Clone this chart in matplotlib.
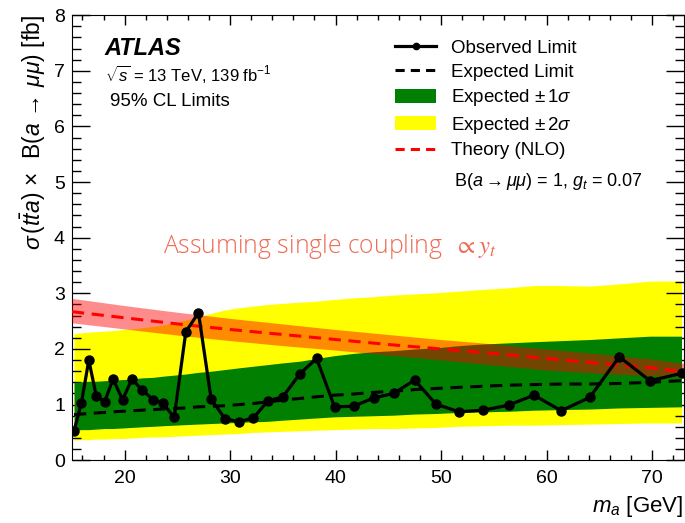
import numpy as np
import matplotlib.pyplot as plt
from matplotlib.lines import Line2D
from matplotlib.patches import Patch
from matplotlib.ticker import MultipleLocator

plt.rcParams['font.family'] = ['Liberation Sans', 'DejaVu Sans']
plt.rcParams['mathtext.fontset'] = 'custom'
plt.rcParams['mathtext.rm'] = 'Liberation Sans'
plt.rcParams['mathtext.it'] = 'Liberation Sans:italic'
plt.rcParams['mathtext.bf'] = 'Liberation Sans:bold'

# mass points [GeV]
mass = [15.2, 15.9, 16.6, 17.3, 18.1, 18.9, 19.8, 20.7, 21.6, 22.7, 23.6, 24.7,
        25.8, 27.0, 28.2, 29.5, 30.8, 32.2, 33.6, 35.0, 36.6, 38.2, 39.9, 41.7,
        43.6, 45.5, 47.5, 49.5, 51.7, 54.0, 56.4, 58.8, 61.4, 64.1, 66.9, 69.8, 72.8]
observed = [0.53, 1.03, 1.80, 1.16, 1.05, 1.46, 1.09, 1.46, 1.27, 1.09, 1.03, 0.77,
            2.31, 2.65, 1.10, 0.75, 0.69, 0.76, 1.07, 1.14, 1.55, 1.83, 0.96, 0.97,
            1.12, 1.20, 1.44, 1.01, 0.87, 0.90, 0.99, 1.17, 0.89, 1.13, 1.86, 1.43, 1.56]
expected = [0.82, 0.83, 0.84, 0.85, 0.86, 0.87, 0.88, 0.89, 0.90, 0.91, 0.92, 0.93,
            0.94, 0.96, 0.97, 0.98, 1.00, 1.02, 1.05, 1.08, 1.11, 1.14, 1.17, 1.19,
            1.22, 1.24, 1.27, 1.29, 1.31, 1.33, 1.35, 1.36, 1.37, 1.37, 1.38, 1.40, 1.43]
sig1_up = [1.40, 1.41, 1.42, 1.42, 1.43, 1.44, 1.45, 1.46, 1.48, 1.49, 1.51, 1.53,
           1.55, 1.58, 1.60, 1.63, 1.66, 1.69, 1.72, 1.75, 1.78, 1.83, 1.88, 1.92,
           1.95, 1.97, 2.00, 2.02, 2.06, 2.09, 2.11, 2.13, 2.15, 2.17, 2.20, 2.23, 2.23]
sig1_dn = [0.54, 0.55, 0.55, 0.56, 0.57, 0.57, 0.58, 0.59, 0.60, 0.61, 0.62, 0.63,
           0.64, 0.65, 0.66, 0.67, 0.68, 0.69, 0.70, 0.72, 0.74, 0.76, 0.78, 0.79,
           0.80, 0.81, 0.83, 0.84, 0.86, 0.87, 0.88, 0.90, 0.91, 0.92, 0.94, 0.95, 0.96]
sig2_up = [2.28, 2.29, 2.30, 2.31, 2.32, 2.33, 2.35, 2.36, 2.38, 2.41, 2.43, 2.47,
           2.52, 2.58, 2.64, 2.70, 2.74, 2.77, 2.80, 2.82, 2.84, 2.86, 2.89, 2.92,
           2.94, 2.97, 2.99, 3.01, 3.04, 3.07, 3.10, 3.14, 3.14, 3.13, 3.17, 3.22, 3.22]
sig2_dn = [0.36, 0.37, 0.37, 0.38, 0.38, 0.39, 0.39, 0.40, 0.41, 0.42, 0.42, 0.43,
           0.44, 0.45, 0.46, 0.47, 0.48, 0.50, 0.51, 0.52, 0.53, 0.54, 0.55, 0.56,
           0.57, 0.57, 0.58, 0.59, 0.61, 0.62, 0.63, 0.63, 0.64, 0.65, 0.66, 0.67, 0.67]

# theory prediction (NLO)
th_mass = [15, 20, 25, 30, 35, 40, 45, 50, 55, 60, 65, 70, 73]
theory = [2.67, 2.56, 2.45, 2.35, 2.26, 2.17, 2.08, 2.00, 1.92, 1.83, 1.74, 1.66, 1.59]
theory_up = [2.91, 2.78, 2.66, 2.55, 2.45, 2.35, 2.26, 2.17, 2.09, 2.00, 1.91, 1.82, 1.74]
theory_dn = [2.47, 2.36, 2.25, 2.15, 2.06, 1.98, 1.89, 1.80, 1.71, 1.62, 1.56, 1.52, 1.50]

fig = plt.figure(figsize=(6.85, 5.23), dpi=100)
ax = fig.add_axes([0.105, 0.12, 0.893, 0.851])

ax.fill_between(mass, sig2_dn, sig2_up, color='#ffff00', lw=0, zorder=1)
ax.fill_between(mass, sig1_dn, sig1_up, color='#007f00', lw=0, zorder=2)
ax.fill_between(th_mass, theory_dn, theory_up, color='red', alpha=0.45, lw=0, zorder=3)
ax.plot(th_mass, theory, color='red', ls=(0, (4, 2.5)), lw=2.2, zorder=4)
ax.plot(mass, expected, color='black', ls=(0, (4, 2.5)), lw=2.2, zorder=5)
ax.plot(mass, observed, color='black', lw=2.3, marker='o', ms=6.5, zorder=6)

ax.set_xlim(15, 73)
ax.set_ylim(0, 8)
ax.xaxis.set_major_locator(MultipleLocator(10))
ax.xaxis.set_minor_locator(MultipleLocator(2))
ax.yaxis.set_major_locator(MultipleLocator(1))
ax.yaxis.set_minor_locator(MultipleLocator(0.2))
ax.tick_params(which='both', direction='in', top=True, right=True, width=1, labelsize=14)
ax.tick_params(axis='x', which='major', length=7, pad=7)
ax.tick_params(axis='x', which='minor', length=3.5)
ax.tick_params(axis='y', which='major', length=13, pad=5)
ax.tick_params(axis='y', which='minor', length=6.5)

ax.set_xlabel(r'$m_a$ [GeV]', fontsize=16, loc='right', labelpad=5)
ax.set_ylabel(r'$\sigma\,(t\bar{t}a)\,\times\,$ B$(a\,\rightarrow\,\mu\mu)$ [fb]',
              fontsize=16.5, loc='top', labelpad=4)

ax.text(0.054, 0.925, 'ATLAS', transform=ax.transAxes, fontsize=17,
        fontweight='bold', fontstyle='italic', va='center')
ax.text(0.054, 0.868, r'$\sqrt{s}$ = 13 TeV, 139 fb$^{-1}$', transform=ax.transAxes,
        fontsize=12, va='center')
ax.text(0.062, 0.806, '95% CL Limits', transform=ax.transAxes, fontsize=13.5, va='center')

ax.text(0.149, 0.465, r'Assuming single coupling  $\propto y_t$', transform=ax.transAxes,
        fontsize=17.8, color='#ee6b55', family='Open Sans', fontweight='light',
        math_fontfamily='stix', va='baseline')

handles = [
    Line2D([], [], color='black', lw=2.3, marker='o', ms=4.5),
    Line2D([], [], color='black', lw=2.2, ls=(0, (3, 2))),
    Patch(color='#007f00', lw=0),
    Patch(color='#ffff00', lw=0),
    Line2D([], [], color='red', lw=2.2, ls=(0, (3, 2))),
]
labels = ['Observed Limit', 'Expected Limit', r'Expected $\pm\,1\sigma$',
          r'Expected $\pm\,2\sigma$', 'Theory (NLO)']
ax.legend(handles, labels, loc='upper left', bbox_to_anchor=(0.516, 0.962), frameon=False,
          fontsize=13.5, handlelength=2.2, handleheight=0.8, labelspacing=0.33,
          handletextpad=0.8, borderaxespad=0)
ax.text(0.625, 0.627, r'B$(a\rightarrow\mu\mu)$ = 1, $g_t$ = 0.07', transform=ax.transAxes,
        fontsize=13, va='center')

fig.savefig('out.png', dpi=100)
